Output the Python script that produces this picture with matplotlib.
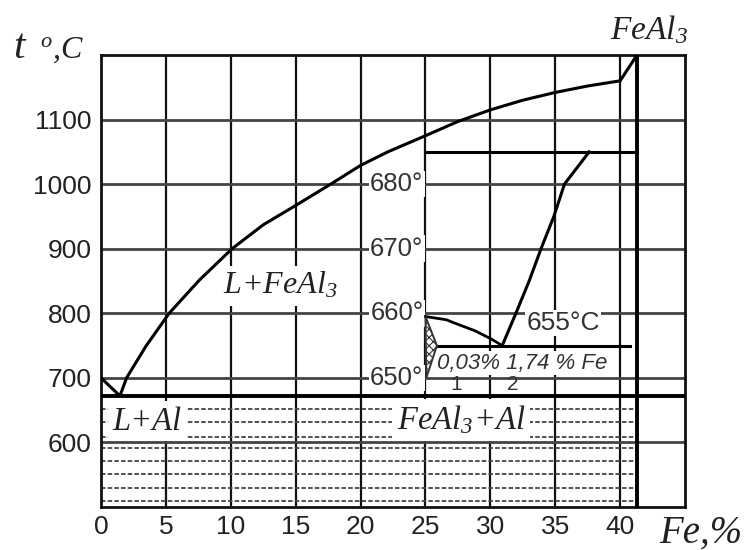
import numpy as np
import matplotlib
matplotlib.use("Agg")
import matplotlib.pyplot as plt

plt.rcParams['font.family'] = ['Liberation Sans', 'DejaVu Sans']
plt.rcParams['mathtext.fontset'] = 'custom'
plt.rcParams['mathtext.rm'] = 'Liberation Serif:italic'
plt.rcParams['mathtext.it'] = 'Liberation Serif:italic'
plt.rcParams['hatch.linewidth'] = 0.8

# Al-FeAl3 part of the Fe-Al diagram (main scale: Fe %, deg C)
x_ticks = [0, 5, 10, 15, 20, 25, 30, 35, 40]
t_ticks = [600, 700, 800, 900, 1000, 1100]
feal3_x = 41.3
eutectic_t = 672

liq_x = [0, 1.46, 1.97, 3.46, 5.25, 7.56, 10.1, 12.5, 15, 17.7, 20, 22.1, 25, 27.5, 30,
         32.5, 35, 37.5, 40, 41.3]
liq_t = [700, 672, 700, 749, 800, 851, 900, 937, 967, 1000, 1029, 1050, 1075, 1097, 1115,
         1130, 1142, 1152, 1160, 1200]

# dashed fill of the two-phase solid region
hatch_t = [651, 631, 609, 591, 571, 551, 530, 510]

# enlarged Al corner (inset scale: Fe %, deg C)
inset_ticks = [650, 660, 670, 680]
inset_top = 685
inset_eut = 655
inset_eut_end = 40.8
al_pct = [0, 0.47, 0.77, 1.12, 1.47, 1.74]
al_t = [659.5, 659.0, 658.2, 657.3, 656.1, 655]
fe_pct = [1.74, 2.05, 2.35, 2.62, 2.91, 3.15, 3.71]
fe_t = [655, 660, 665, 670, 675, 680, 685]
ss_pct = [0, 0.26, 0.02]
ss_t = [659.5, 655, 650]


def ix(p):
    return 25 + np.asarray(p) * 3.4


def it(t):
    return 700 + (np.asarray(t) - 650) * 10


W, H = 752, 550
fig = plt.figure(figsize=(W / 100, H / 100), dpi=100)
ax = fig.add_axes([101 / W, (H - 507) / H, 584 / W, 452 / H])
ax.set_xlim(0, 45)
ax.set_ylim(500, 1200)

ax.set_xticks(x_ticks)
ax.set_yticks(t_ticks)
ax.tick_params(length=0, labelsize=19, colors='#222')
ax.tick_params(axis='x', pad=6)
ax.tick_params(axis='y', pad=7)
for s in ax.spines.values():
    s.set_linewidth(2)
    s.set_color('#111')

# grid
for x in x_ticks[1:]:
    ax.axvline(x, color='#111', lw=1.6, zorder=1)
for t in t_ticks:
    ax.axhline(t, color='#444', lw=2, zorder=1)

for t in hatch_t:
    ax.plot([0, feal3_x], [t, t], color='#444', lw=1.3, ls=(0, (2.5, 1.2)), zorder=1)

ax.axvline(feal3_x, color='#000', lw=2.8, zorder=4)
ax.axhline(eutectic_t, color='#000', lw=2.8, zorder=4)
ax.plot(liq_x, liq_t, color='#000', lw=2.2, zorder=4)

# inset
ax.plot([25, feal3_x], [it(inset_top)] * 2, color='#000', lw=2.2, zorder=4)
ax.plot([25, inset_eut_end], [it(inset_eut)] * 2, color='#000', lw=2.2, zorder=4)
ax.plot(ix(al_pct), it(al_t), color='#000', lw=2, zorder=4)
ax.plot(ix(fe_pct), it(fe_t), color='#000', lw=2.2, zorder=4)
ax.fill(ix(ss_pct), it(ss_t), facecolor='white', edgecolor='#333', hatch='xxxx', lw=1.4, zorder=4)

box = dict(facecolor='white', edgecolor='none', pad=1)
for t in inset_ticks:
    ax.text(24.85, it(t), f'{t}°', ha='right', va='center', fontsize=18.5, color='#333',
            bbox=box, zorder=3)
ax.text(32.8, it(inset_eut) + 35, f'{inset_eut}°C', ha='left', va='center', fontsize=19,
        color='#333', bbox=box, zorder=3)
ax.text(25.9, 723, '0,03% 1,74 % Fe', ha='left', va='center', fontsize=16, style='italic',
        color='#333', bbox=box, zorder=3)
ax.text(27.4, 689, '1', ha='center', va='center', fontsize=15, color='#333', zorder=3)
ax.text(31.7, 689, '2', ha='center', va='center', fontsize=15, color='#333', zorder=3)

# phase fields
serif = dict(family='Liberation Serif', style='italic', color='#222')
box2 = dict(facecolor='white', edgecolor='none', boxstyle='square,pad=0.15')
ax.text(9.4, 830, 'L+FeAl$_3$', fontsize=23, ha='left', va='baseline', bbox=box2, zorder=3, **serif)
ax.text(0.9, 620, 'L+Al', fontsize=23.5, ha='left', va='baseline', bbox=box2, zorder=3, **serif)
ax.text(22.8, 620, 'FeAl$_3$+Al', fontsize=23.5, ha='left', va='baseline', bbox=box2, zorder=3,
        **serif)
ax.text(39.2, 1225, 'FeAl$_3$', fontsize=24, ha='left', va='baseline', clip_on=False, **serif)
ax.text(43.0, 445, 'Fe,%', fontsize=28, ha='left', va='baseline', clip_on=False, **serif)

# axis title t, deg C
fig.text(13 / W, 1 - 58 / H, 't', fontsize=30, ha='left', va='baseline', **serif)
fig.text(40 / W, 1 - 58 / H, '$^{o}$,C', fontsize=23, ha='left', va='baseline', **serif)

fig.savefig('out.png', dpi=100)
